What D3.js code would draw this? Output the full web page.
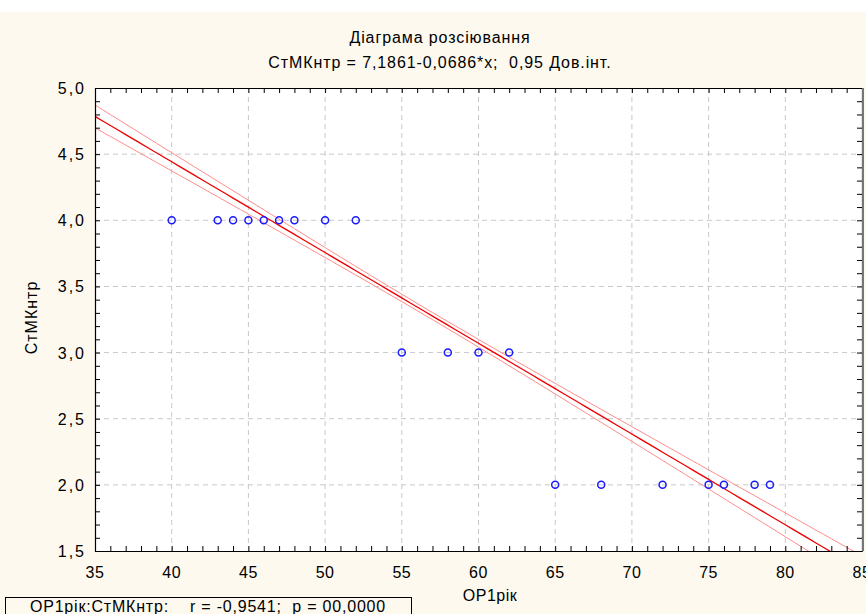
<!DOCTYPE html>
<html>
<head>
<meta charset="utf-8">
<script src="https://cdn.jsdelivr.net/npm/d3@7"></script>
<style>
  html, body { margin: 0; padding: 0; background: #ffffff; }
  svg { display: block; font-family: "Liberation Sans", Arial, sans-serif; }
  text { white-space: pre; }
</style>
</head>
<body>
<div id="chart"></div>
<script>
// data
const xValues = [40, 43, 44, 45, 46, 47, 48, 50, 52, 55, 58, 60, 62, 65, 68, 72, 75, 76, 78, 79];
const yValues = [4, 4, 4, 4, 4, 4, 4, 4, 4, 3, 3, 3, 3, 2, 2, 2, 2, 2, 2, 2];
const xTicks = [35, 40, 45, 50, 55, 60, 65, 70, 75, 80, 85];
const yTicks = [1.5, 2.0, 2.5, 3.0, 3.5, 4.0, 4.5, 5.0];

// regression from the title, band half width
const intercept = 7.1861;
const slope = -0.0686;
const bandCenter = 57;
const bandMin = 0.027;
const bandSpread = 1.39e-5;

const titleLines = ["Діаграма розсіювання", "СтМКнтр = 7,1861-0,0686*x;  0,95 Дов.інт."];
const xTitle = "OP1рік";
const yTitle = "СтМКнтр";
const statText = "OP1рік:СтМКнтр:    r = -0,9541;  p = 00,0000";

const width = 866, height = 614;
const margin = { top: 88, right: 4, bottom: 63, left: 95 };

const svg = d3.select("#chart")
  .append("svg")
  .attr("width", width)
  .attr("height", height);

svg.append("rect")
  .attr("x", 0).attr("y", 12)
  .attr("width", width).attr("height", height - 12)
  .attr("fill", "#fdf9ef");

const xScale = d3.scaleLinear()
  .domain([35, 85])
  .range([margin.left, width - margin.right]);

const yScale = d3.scaleLinear()
  .domain([1.5, 5])
  .range([height - margin.bottom, margin.top]);

const [x0, x1] = xScale.range();
const [y1, y0] = yScale.range();

const commaFmt = d3.formatLocale({ decimal: ",", thousands: " ", grouping: [3], currency: ["", ""] });
const yFmt = commaFmt.format(".1f");

svg.append("rect")
  .attr("x", x0).attr("y", y0)
  .attr("width", x1 - x0).attr("height", y1 - y0)
  .attr("fill", "#ffffff");

// grid
const grid = svg.append("g")
  .attr("stroke", "#c8c8c8")
  .attr("stroke-dasharray", "5,4");

grid.selectAll("line.gx")
  .data(xTicks.slice(1, -1))
  .join("line")
  .attr("class", "gx")
  .attr("x1", d => xScale(d)).attr("x2", d => xScale(d))
  .attr("y1", y0).attr("y2", y1);

grid.selectAll("line.gy")
  .data(yTicks.slice(1, -1))
  .join("line")
  .attr("class", "gy")
  .attr("x1", x0).attr("x2", x1)
  .attr("y1", d => yScale(d)).attr("y2", d => yScale(d));

// regression line and confidence band
svg.append("clipPath").attr("id", "plotclip")
  .append("rect")
  .attr("x", x0).attr("y", y0)
  .attr("width", x1 - x0).attr("height", y1 - y0);

const fitAt = x => intercept + slope * x;
const halfAt = x => Math.sqrt(bandMin * bandMin + bandSpread * (x - bandCenter) ** 2);
const xs = d3.range(35, 85.01, 0.5);

const lineGen = f => d3.line()
  .x(d => xScale(d))
  .y(d => yScale(f(d)));

const fits = svg.append("g")
  .attr("clip-path", "url(#plotclip)")
  .attr("fill", "none");

fits.append("path")
  .datum(xs)
  .attr("d", lineGen(x => fitAt(x) + halfAt(x)))
  .attr("stroke", "#ff8c8c")
  .attr("stroke-width", 1);

fits.append("path")
  .datum(xs)
  .attr("d", lineGen(x => fitAt(x) - halfAt(x)))
  .attr("stroke", "#ff8c8c")
  .attr("stroke-width", 1);

fits.append("path")
  .datum(xs)
  .attr("d", lineGen(fitAt))
  .attr("stroke", "#ee0000")
  .attr("stroke-width", 1.3);

// points
svg.append("g")
  .selectAll("circle")
  .data(xValues.map((x, i) => ({ x, y: yValues[i] })))
  .join("circle")
  .attr("cx", d => xScale(d.x))
  .attr("cy", d => yScale(d.y))
  .attr("r", 3.5)
  .attr("fill", "none")
  .attr("stroke", "#1a1aff")
  .attr("stroke-width", 1.5);

// axes, ticks inside the frame
const minorX = d3.range(35, 85.01, 1);
const minorY = d3.range(1.5, 5.001, 0.1);

const xBottom = d3.axisTop(xScale).tickValues(minorX).tickSize(5).tickFormat("").tickSizeOuter(0);
const xTop = d3.axisBottom(xScale).tickValues(minorX).tickSize(5).tickFormat("").tickSizeOuter(0);
const yLeft = d3.axisRight(yScale).tickValues(minorY).tickSize(5).tickFormat("").tickSizeOuter(0);
const yRight = d3.axisLeft(yScale).tickValues(minorY).tickSize(5).tickFormat("").tickSizeOuter(0);

svg.append("g").attr("transform", `translate(0, ${y1})`).call(xBottom);
svg.append("g").attr("transform", `translate(0, ${y0})`).call(xTop);
svg.append("g").attr("transform", `translate(${x0}, 0)`).call(yLeft);
svg.append("g").attr("transform", `translate(${x1}, 0)`).call(yRight);

svg.selectAll(".domain").attr("stroke", "#000").attr("stroke-width", 1.2);
svg.selectAll(".tick line").attr("stroke", "#000");

svg.append("line")
  .attr("x1", x1 + 1).attr("x2", x1 + 1)
  .attr("y1", y0).attr("y2", y1)
  .attr("stroke", "#777").attr("stroke-width", 2);

// tick labels
svg.append("g")
  .selectAll("text")
  .data(xTicks)
  .join("text")
  .attr("x", d => xScale(d))
  .attr("y", 578)
  .attr("text-anchor", "middle")
  .attr("font-size", 16)
  .attr("letter-spacing", 0.5)
  .text(d => d);

svg.append("g")
  .selectAll("text")
  .data(yTicks)
  .join("text")
  .attr("x", 86)
  .attr("y", d => yScale(d) + 6)
  .attr("text-anchor", "end")
  .attr("font-size", 16)
  .attr("letter-spacing", 2)
  .text(d => yFmt(d));

// titles
svg.append("g")
  .selectAll("text")
  .data(titleLines)
  .join("text")
  .attr("x", 440)
  .attr("y", (d, i) => 43 + i * 25)
  .attr("text-anchor", "middle")
  .attr("font-size", 16)
  .attr("letter-spacing", 0.9)
  .text(d => d);

svg.append("text")
  .attr("x", 490)
  .attr("y", 601)
  .attr("text-anchor", "middle")
  .attr("font-size", 16)
  .attr("letter-spacing", 0.5)
  .text(xTitle);

svg.append("text")
  .attr("transform", `translate(37, ${(y0 + y1) / 2 - 2}) rotate(-90)`)
  .attr("text-anchor", "middle")
  .attr("font-size", 16)
  .attr("letter-spacing", 1)
  .text(yTitle);

// stat box
svg.append("rect")
  .attr("x", 5.5).attr("y", 597.5)
  .attr("width", 406).attr("height", 20)
  .attr("fill", "none")
  .attr("stroke", "#000");

svg.append("text")
  .attr("x", 208)
  .attr("y", 612)
  .attr("text-anchor", "middle")
  .attr("font-size", 16)
  .attr("letter-spacing", 0.8)
  .text(statText);
</script>
</body>
</html>
